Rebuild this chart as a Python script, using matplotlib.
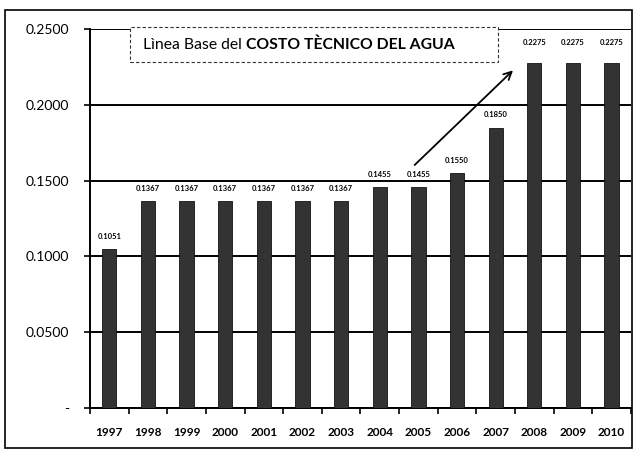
import matplotlib.pyplot as plt
from matplotlib.patches import Rectangle
from matplotlib.transforms import offset_copy

years = ['1997', '1998', '1999', '2000', '2001', '2002', '2003',
         '2004', '2005', '2006', '2007', '2008', '2009', '2010']
costo = [0.1051, 0.1367, 0.1367, 0.1367, 0.1367, 0.1367, 0.1367,
         0.1455, 0.1455, 0.1550, 0.1850, 0.2275, 0.2275, 0.2275]
yticks = [0.0, 0.05, 0.10, 0.15, 0.20, 0.25]
ytick_labels = ['-', '0.0500', '0.1000', '0.1500', '0.2000', '0.2500']

plt.rcParams['font.family'] = ['Lato', 'DejaVu Sans']

fig = plt.figure(figsize=(6.36, 4.53), dpi=100)
ax = fig.add_axes([0.1415, 0.0993, 0.8505, 0.8367])

x = list(range(len(years)))
ax.bar(x, costo, width=0.37, color='#333333', edgecolor='#111111', linewidth=0.6, zorder=3)

for xi, v in zip(x, costo):
    off = 0.006 if v < 0.2 else 0.011
    ax.text(xi, v + off, f'{v:.4f}', ha='center', va='bottom',
            fontsize=5.5, fontweight='bold', zorder=4)

ax.set_xlim(-0.5, len(years) - 0.5)
ax.set_ylim(0, 0.25)
ax.set_yticks(yticks)
ax.set_yticklabels(ytick_labels, fontsize=10)
ax.set_xticks(x)
ax.set_xticklabels(years, fontsize=8.5, fontweight='bold')
ax.tick_params(axis='x', length=0, pad=14)
ax.set_xticks([i - 0.5 for i in range(len(years) + 1)], minor=True)
ax.tick_params(axis='x', which='minor', length=4, width=1.2, direction='out')
ax.tick_params(axis='y', length=4, width=1.2, pad=11)
ax.yaxis.grid(True, color='black', linewidth=1.4, zorder=1)
for s in ['top', 'right']:
    ax.spines[s].set_visible(False)
ax.spines['left'].set_linewidth(1.4)
ax.spines['bottom'].set_linewidth(1.4)

# cuadro del titulo
box = Rectangle((0.074, 0.913), 0.68, 0.092, transform=ax.transAxes,
                fill=True, facecolor='white', edgecolor='#333333',
                linestyle=(0, (3, 2)), linewidth=0.8, zorder=5, clip_on=False)
ax.add_patch(box)
t1 = ax.text(0.098, 0.958, 'Lìnea Base del ', transform=ax.transAxes,
             fontsize=11.3, va='center', ha='left', zorder=6)
fig.canvas.draw()
w = t1.get_window_extent().width
ax.text(0.098, 0.958, 'COSTO TÈCNICO DEL AGUA', fontsize=11.3, fontweight='bold',
        va='center', ha='left', zorder=6,
        transform=offset_copy(ax.transAxes, fig=fig, x=w, y=0, units='dots'))

ax.annotate('', xy=(10.5, 0.224), xytext=(7.85, 0.159),
            arrowprops=dict(arrowstyle='->', color='black', lw=1.3,
                            mutation_scale=14), zorder=6)

# marco exterior
fig.patches.append(Rectangle((5 / 636, 5 / 453), 627 / 636, 438 / 453,
                             transform=fig.transFigure, fill=False,
                             edgecolor='black', linewidth=1.2))

plt.savefig('out.png', dpi=100)
plt.close()
